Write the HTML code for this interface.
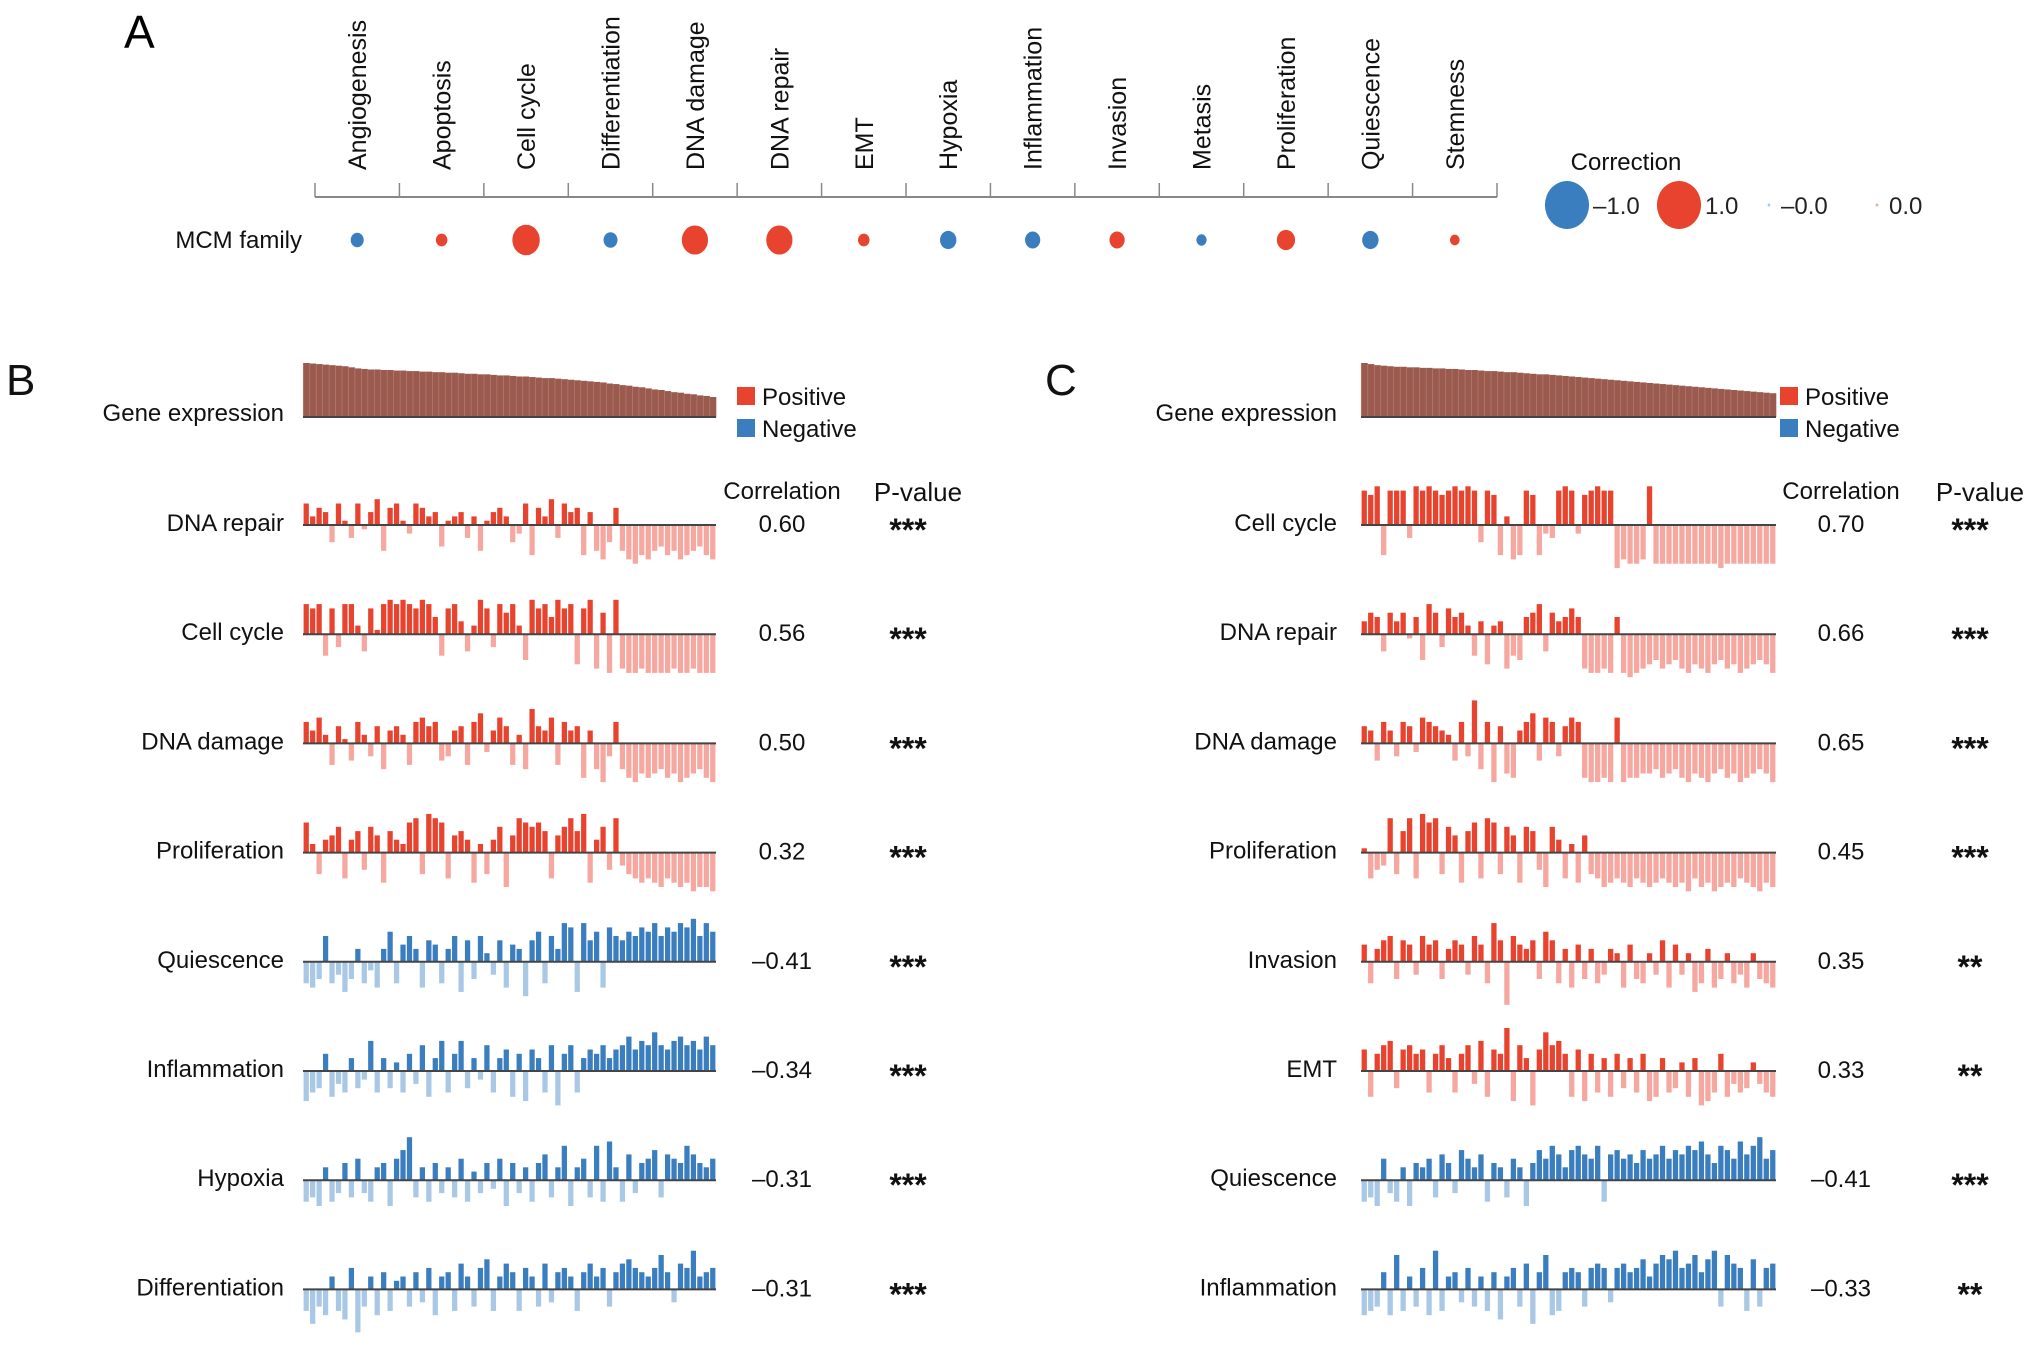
<!DOCTYPE html>
<html><head><meta charset="utf-8"><style>
body{margin:0;background:#fff;}
svg{display:block;font-family:"Liberation Sans",Arial,sans-serif;}
</style></head><body>
<svg id="fig" width="2031" height="1358" viewBox="0 0 2031 1358" xmlns="http://www.w3.org/2000/svg">
<g id="panelA"></g>
<g id="panelB"></g>
<g id="panelC"></g>
</svg>
<script>
const categoriesA = ["Angiogenesis","Apoptosis","Cell cycle","Differentiation","DNA damage","DNA repair","EMT","Hypoxia","Inflammation","Invasion","Metasis","Proliferation","Quiescence","Stemness"];
const correlationA = [-0.25,0.2,0.72,-0.28,0.68,0.68,0.2,-0.36,-0.32,0.32,-0.16,0.42,-0.36,0.14];

const geneExprB = [10,9.9,9.8,9.7,9.6,9.5,9.4,9.2,9,8.9,8.8,8.8,8.7,8.7,8.6,8.6,8.5,8.5,8.4,8.4,8.3,8.3,8.2,8.2,8.1,8,8,7.9,7.9,7.8,7.7,7.7,7.6,7.5,7.5,7.4,7.3,7.2,7.2,7.1,7,6.9,6.8,6.7,6.6,6.5,6.4,6.2,6.1,5.9,5.8,5.6,5.5,5.3,5.1,5,4.8,4.6,4.5,4.3,4.2,4,3.9,3.7];
const geneExprC = [10,9.8,9.6,9.5,9.4,9.3,9.3,9.2,9.2,9.1,9.1,9,9,8.9,8.9,8.8,8.7,8.7,8.6,8.5,8.5,8.4,8.3,8.3,8.2,8.1,8,7.9,7.9,7.8,7.7,7.6,7.5,7.4,7.3,7.2,7.1,7,6.9,6.8,6.7,6.6,6.5,6.4,6.3,6.2,6.1,6,5.9,5.8,5.7,5.6,5.5,5.4,5.3,5.2,5.1,5,4.9,4.8,4.7,4.6,4.5,4.4];

const rowNamesB = ["DNA repair","Cell cycle","DNA damage","Proliferation","Quiescence","Inflammation","Hypoxia","Differentiation"];
const corrB = ["0.60","0.56","0.50","0.32","\u20130.41","\u20130.34","\u20130.31","\u20130.31"];
const pvalB = ["***","***","***","***","***","***","***","***"];
const signB = [1,1,1,1,-1,-1,-1,-1];
const b_dnaRepair = [5,2,4,3,-4,5,1,-3,5,-1,3,6,-6,4,5,1,-2,5,4,2,3,-5,1,2,3,-3,2,-6,1,3,4,2,-4,-2,5,-7,4,2,6,-3,5,3,4,-7,3,-6,-8,-4,4,-6,-8,-9,-7,-8,-6,-5,-7,-6,-8,-7,-6,-5,-7,-8];
const b_cellCycle = [7,6,7,-5,6,-3,7,7,2,-4,6,1,7,8,7,8,7,6,8,7,4,-5,6,7,3,-4,2,8,6,-3,7,5,7,2,-6,8,6,7,4,8,6,7,-7,6,8,-8,5,-9,8,-8,-9,-9,-8,-9,-9,-9,-9,-8,-9,-9,-8,-9,-9,-9];
const b_dnaDamage = [5,3,6,2,-5,4,1,-4,5,2,-3,4,-6,3,4,2,-5,5,6,4,5,-4,-3,3,4,-5,5,7,-2,3,6,4,-5,2,-6,8,4,3,6,-5,5,3,4,-8,3,-6,-9,-3,5,-6,-8,-9,-7,-8,-7,-6,-8,-7,-9,-8,-7,-6,-8,-9];
const b_prolif = [7,2,-5,3,4,6,-6,3,5,-4,6,4,-7,5,3,2,7,8,-5,9,8,7,-6,4,5,3,-7,2,-5,3,6,-8,4,8,7,6,7,5,-6,4,6,8,5,9,-7,3,6,-4,8,-3,-5,-6,-7,-6,-7,-8,-6,-7,-8,-7,-9,-8,-8,-9];
const b_quiesc = [-5,-6,-4,6,-5,-3,-7,-4,3,-5,-2,-6,3,7,-5,4,6,3,-6,5,4,-5,3,6,-7,5,-4,6,2,-3,5,-6,4,3,-8,5,7,-5,6,3,9,8,-7,9,5,7,-6,8,6,5,7,6,8,7,9,6,8,7,9,8,10,6,9,7];
const b_inflam = [-7,-5,-4,4,-6,-3,-5,3,-4,-2,7,-5,3,-4,2,-5,4,-3,6,-6,3,7,-5,4,7,-4,3,-2,6,-5,3,5,-6,4,-7,5,3,-5,6,-8,4,6,-5,3,5,4,6,3,5,6,8,5,7,6,9,6,5,7,8,6,7,5,8,6];
const b_hypox = [-5,-4,-6,3,-5,-3,4,-4,5,-3,-5,3,4,-6,5,7,10,-4,3,-5,4,-3,3,-4,5,-5,2,-3,4,-2,5,-6,4,-3,3,-5,4,6,-4,3,8,-6,3,5,-4,8,-5,9,3,-5,6,-3,4,5,7,-4,6,5,4,8,6,4,3,5];
const b_diff = [-5,-8,-4,-6,3,-5,-7,5,-10,-4,3,-6,4,-5,2,3,-4,4,-3,5,-6,3,4,-5,6,3,-4,5,7,-5,3,6,4,-5,5,3,-4,6,-3,4,5,3,-5,4,6,3,5,-4,4,6,7,5,4,3,5,8,4,-3,6,5,9,3,4,5];
const rowsB = [b_dnaRepair,b_cellCycle,b_dnaDamage,b_prolif,b_quiesc,b_inflam,b_hypox,b_diff];

const rowNamesC = ["Cell cycle","DNA repair","DNA damage","Proliferation","Invasion","EMT","Quiescence","Inflammation"];
const corrC = ["0.70","0.66","0.65","0.45","0.35","0.33","\u20130.41","\u20130.33"];
const pvalC = ["***","***","***","***","**","**","***","**"];
const c_cellCycle = [8,7,9,-7,8,8,8,-3,9,8,9,8,7,8,9,8,9,8,-4,8,7,-7,2,-8,-7,8,7,-7,-2,-3,8,9,8,-2,7,8,9,8,8,-10,-8,-9,-9,-8,9,-9,-9,-9,-9,-9,-9,-9,-9,-9,-9,-10,-9,-9,-9,-9,-9,-9,-9,-9];
const c_dnaRepair = [3,5,4,-4,5,3,5,-1,4,-6,7,5,-3,6,4,5,2,-5,3,-7,2,3,-8,-5,-6,4,5,7,-4,5,3,4,6,4,-8,-9,-9,-8,-9,4,-9,-10,-9,-8,-7,-6,-8,-7,-6,-8,-9,-7,-8,-9,-7,-6,-8,-7,-9,-8,-7,-6,-7,-9];
const c_dnaDamage = [4,3,-4,5,3,-3,5,4,-2,6,5,4,3,2,-4,5,-3,10,-6,5,-9,4,-7,-8,3,5,7,-4,6,5,-3,4,6,5,-8,-9,-9,-8,-9,6,-9,-8,-8,-7,-7,-6,-8,-7,-6,-8,-9,-7,-8,-9,-7,-6,-8,-7,-9,-8,-7,-6,-7,-9];
const c_prolif = [1,-6,-4,-3,8,-5,5,8,-6,9,7,8,-5,6,4,-7,5,7,-6,8,7,-5,6,4,-7,6,5,-4,-8,6,3,-6,2,-7,4,-5,-6,-8,-7,-6,-7,-8,-6,-7,-8,-7,-6,-7,-8,-7,-9,-6,-8,-7,-9,-8,-7,-8,-6,-7,-8,-9,-7,-8];
const c_invas = [4,-5,3,5,6,-4,5,4,-3,6,4,5,-4,3,5,4,-3,6,4,-5,9,5,-10,6,4,3,5,-4,7,5,-5,3,-6,4,-4,3,-5,-3,3,2,-6,4,-4,-5,2,-3,5,-6,4,-3,2,-7,-5,3,-6,-4,2,-5,-3,-6,2,-4,-5,-6];
const c_emt = [5,-6,4,6,7,-4,5,6,4,5,-5,4,6,3,-5,4,6,-3,7,-6,5,4,10,-7,6,3,-8,5,9,6,7,4,-6,5,-7,4,-5,3,-6,4,-4,3,-5,4,-7,-6,3,-5,-4,2,-6,3,-8,-7,-5,4,-6,-3,-5,-4,2,-3,-5,-6];
const c_quiesc = [-5,-4,-6,5,-3,-5,3,-6,4,3,5,-4,6,4,-3,7,5,3,6,-5,4,3,-4,5,3,-6,4,7,5,8,6,3,7,8,6,5,8,-5,6,7,5,6,4,7,5,6,8,5,7,6,8,7,9,6,4,8,7,5,9,6,8,10,5,7];
const c_inflam = [-6,-5,-4,4,-6,8,-5,3,-4,5,-6,9,-5,3,4,-3,5,-4,3,-5,4,-7,3,5,-4,6,-8,4,8,-6,-5,4,5,4,-4,5,6,5,-3,5,6,4,5,7,3,6,8,7,9,5,6,8,4,7,9,-4,8,6,5,-5,7,-4,5,6];
const rowsC = [c_cellCycle,c_dnaRepair,c_dnaDamage,c_prolif,c_invas,c_emt,c_quiesc,c_inflam];
const signC = [1,1,1,1,1,1,-1,-1];

const NS = "http://www.w3.org/2000/svg";
function mk(parent, tag, attrs, text){
  const e = document.createElementNS(NS, tag);
  for (const k in attrs) e.setAttribute(k, attrs[k]);
  if (text !== undefined) e.textContent = text;
  parent.appendChild(e);
  return e;
}
const RED="#e8432e", PINK="#f5a7a0", BLUE="#3a7ebf", LBLUE="#a8c8e6";

// Panel A
const gA = document.getElementById('panelA');
let t = mk(gA,'text',{x:124,y:48,'font-size':46});
t.textContent='A';


const ax0=315, ax1=1497, axY=197;
const colW=(ax1-ax0)/categoriesA.length;
const xA = i => ax0 + colW*(i+0.5);
const rA = v => 3 + Math.abs(v)*17;
let ln = mk(gA,'line',{x1:ax0,y1:axY,x2:ax1,y2:axY,stroke:'#888','stroke-width':2});


for (let i=0;i<=categoriesA.length;i++){
  const x=ax0+colW*i;
  const tk=mk(gA,'line',{x1:x,y1:axY-14,x2:x,y2:axY,stroke:'#888','stroke-width':1.5});
  
  
}
categoriesA.forEach((c,i)=>{
  const x=xA(i)+9;
  const tx=mk(gA,'text',{x:x,y:170,'font-size':25,transform:`rotate(-90 ${x} 170)`,fill:'#111'},c);
  
  
  const v=correlationA[i];
  const r=rA(v);
  const el=mk(gA,'ellipse',{cx:xA(i),cy:240,rx:r*0.9,ry:r,fill:v<0?BLUE:RED});
  
  
});
t=mk(gA,'text',{x:302,y:248,'font-size':24,'text-anchor':'end',fill:'#111'},'MCM family');


t=mk(gA,'text',{x:1626,y:170,'font-size':24,'text-anchor':'middle',fill:'#111'},'Correction');


const legA=[[1567,-1.0,'\u20131.0',BLUE],[1679,1.0,'1.0',RED],[1769,-0.01,'\u20130.0',LBLUE],[1877,0.01,'0.0',PINK]];
legA.forEach(([x,v,lab,col])=>{
  const r = Math.abs(v)>0.5 ? 24 : 1.5;
  const e=mk(gA,'ellipse',{cx:x,cy:205,rx:r*0.92,ry:r,fill:col});
  
  
  const tt=mk(gA,'text',{x:x+(r>5?26:12),y:214,'font-size':24,fill:'#222'},lab);
  
  
});

// Bar panels
function panel(gId, letter, lx, x0, x1, labelEnd, legX, corrX, pX, geneExpr, rows, names, corrs, pvals, signs){
  const g=document.getElementById(gId);
  let t=mk(g,'text',{x:lx,y:395,'font-size':44,fill:'#111'},letter);
  
  
  const n=geneExpr.length, step=(x1-x0)/n;
  const xB=i=>x0+i*step;
  const gBase=417, yG=v=>gBase - v*5.4;
  geneExpr.forEach((v,i)=>{
    const r=mk(g,'rect',{x:xB(i),y:yG(v),width:step+0.3,height:gBase-yG(v),fill:'#9a5a4e'});
    
    
    const s=mk(g,'line',{x1:xB(i)+0.3,y1:yG(v),x2:xB(i)+0.3,y2:gBase,stroke:'#b77d72','stroke-width':0.7});
    
    
  });
  mk(g,'line',{x1:x0,y1:gBase,x2:x1,y2:gBase,stroke:'#444','stroke-width':2});
  t=mk(g,'text',{x:labelEnd,y:421,'font-size':24,'text-anchor':'end',fill:'#111'},'Gene expression');
  
  
  [[396,RED,'Positive'],[428,BLUE,'Negative']].forEach(([y,c,l])=>{
    const r=mk(g,'rect',{x:legX,y:y-9,width:18,height:18,fill:c});
    
    
    const tt=mk(g,'text',{x:legX+25,y:y+9,'font-size':24,fill:'#111'},l);
    
    
  });
  t=mk(g,'text',{x:corrX,y:499,'font-size':24,'text-anchor':'middle',fill:'#111'},'Correlation');
  
  
  t=mk(g,'text',{x:pX,y:501,'font-size':26,'text-anchor':'middle',fill:'#111'},'P-value');
  
  
  rows.forEach((vals,ri)=>{
    const base=525+ri*109.2;
    const yV=v=>base - v*4.3;
    const pos=signs[ri]>0;
    const step2=(x1-x0)/vals.length;
    vals.forEach((v,i)=>{
      const up=v>0;
      const col = pos ? (up?RED:PINK) : (up?BLUE:LBLUE);
      const y=Math.min(yV(v),base), h=Math.abs(yV(v)-base);
      const r=mk(g,'rect',{x:x0+i*step2+0.6,y:y,width:step2-1.2,height:h,fill:col});
      
      
    });
    const bl=mk(g,'line',{x1:x0,y1:base,x2:x1,y2:base,stroke:'#444','stroke-width':2});
    
    
    let tt=mk(g,'text',{x:labelEnd,y:base+6,'font-size':24,'text-anchor':'end',fill:'#111'},names[ri]);
    
    
    tt=mk(g,'text',{x:corrX,y:base+7,'font-size':24,'text-anchor':'middle',fill:'#111'},corrs[ri]);
    
    
    tt=mk(g,'text',{x:pX-10,y:base+16,'font-size':32,'font-weight':'bold','text-anchor':'middle',fill:'#111'},pvals[ri]);
    
    
  });
}
panel('panelB','B',6,303,716,284,737,782,918,geneExprB,rowsB,rowNamesB,corrB,pvalB,signB);
panel('panelC','C',1045,1361,1776,1337,1780,1841,1980,geneExprC,rowsC,rowNamesC,corrC,pvalC,signC);
</script>
</body></html>
